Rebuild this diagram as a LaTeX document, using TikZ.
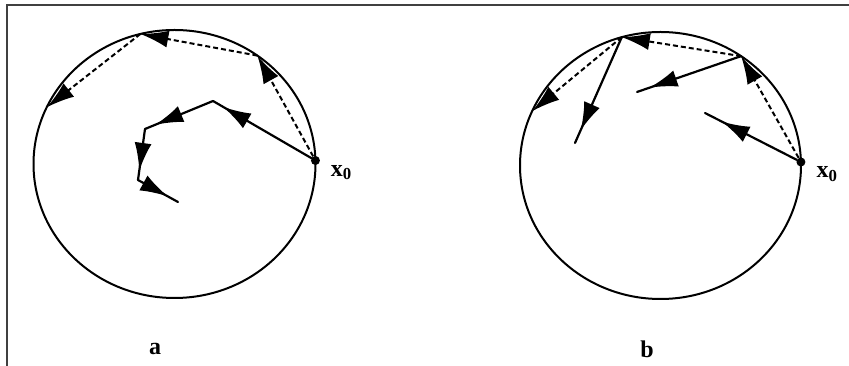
\documentclass[tikz,border=0pt]{standalone}
\usepackage{fontspec}
\setmainfont{Liberation Serif}
\usetikzlibrary{arrows.meta, decorations.markings, calc}

\begin{document}
\begin{tikzpicture}[
  x=1pt, y=1pt,
  every node/.style={font=\fontsize{24}{28}\selectfont\bfseries},
  ball/.style={line width=2pt},
  walk/.style={line width=2.2pt, line cap=round, postaction={decorate},
    decoration={markings, mark=at position #1 with {\arrow{Latex[length=28pt,width=17pt]}}}},
  walk/.default=0.8,
  chord/.style={line width=2pt, dash pattern=on 5pt off 3pt,
    -{Latex[length=28pt,width=17pt]}},
  start/.style={circle, fill, inner sep=0pt, minimum size=9pt}
]
\useasboundingbox (0,0) rectangle (849,366);
\draw[line width=2.5pt, black!75] (7,0) -- (7,361) -- (849,361);

% panel a
\begin{scope}[shift={(174.5,202)}]
  \draw[ball] (0,0) ellipse [x radius=141, y radius=134];
  \node[start] (a0) at (1.5:141 and 134) {};
  \coordinate (a1) at (54:141 and 134);
  \coordinate (a2) at (104:141 and 134);
  \coordinate (a3) at (155:141 and 134);
  \coordinate (p1) at (38.5,63);
  \coordinate (p2) at (-29.5,35);
  \coordinate (p3) at (-36.5,-16);
  \coordinate (p4) at (3.5,-38);
  \draw[chord] (a0) -- (a1);
  \draw[chord] (a1) -- (a2);
  \draw[chord] (a2) -- (a3);
  \draw[walk=0.9] (a0) -- (p1);
  \draw[walk=0.85] (p1) -- (p2);
  \draw[walk=0.82] (p2) -- (p3);
  \draw[walk=0.75] (p3) -- (p4);
  \node (ax) at ($(a0)+(26,-12)$) {x\textsubscript{0}};
  \node (alabel) at (-19.5,-185) {a};
\end{scope}

% panel b
\begin{scope}[shift={(660.5,200.5)}]
  \draw[ball] (0,0) ellipse [x radius=140.5, y radius=133.5];
  \node[start] (b0) at (1.5:140.5 and 133.5) {};
  \coordinate (b1) at (55:140.5 and 133.5);
  \coordinate (b2) at (106:140.5 and 133.5);
  \coordinate (b3) at (156:140.5 and 133.5);
  \coordinate (r0) at (44.5,52.5);
  \coordinate (r1) at (-23.5,73.5);
  \coordinate (r2) at (-85.5,22.5);
  \draw[chord] (b0) -- (b1);
  \draw[chord] (b1) -- (b2);
  \draw[chord] (b2) -- (b3);
  \draw[walk=0.82] (b0) -- (r0);
  \draw[walk=0.88] (b1) -- (r1);
  \draw[walk=0.88] (b2) -- (r2);
  \node (bx) at ($(b0)+(26,-12)$) {x\textsubscript{0}};
  \node (blabel) at (-13.5,-183.5) {b};
\end{scope}
\end{tikzpicture}
\end{document}
